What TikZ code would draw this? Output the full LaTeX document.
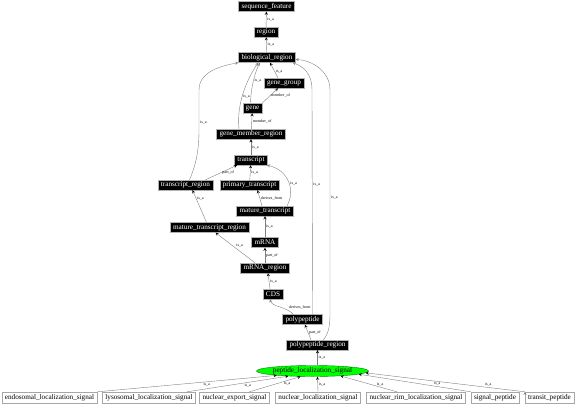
\documentclass[tikz,border=0pt]{standalone}
\usepackage{fontspec}
\setmainfont{Liberation Serif}
\usetikzlibrary{arrows,shapes.geometric}
\tikzset{
  term/.style={draw=gray!60, fill=black, text=white, font=\fontsize{7.2}{7.2}\selectfont, inner xsep=3pt, inner ysep=1pt, minimum height=10pt},
  leaf/.style={draw=gray!70, fill=white, text=black, font=\fontsize{7.2}{7.2}\selectfont, inner xsep=3pt, inner ysep=1pt, minimum height=11pt},
  signal/.style={ellipse, draw=green!50!black, fill=green, text=black, font=\fontsize{7.2}{7.2}\selectfont, minimum width=111pt, minimum height=11pt, inner sep=0pt},
  rel/.style={font=\fontsize{4}{4}\selectfont, inner sep=1pt, text=black}
}

\begin{document}
\begin{tikzpicture}[x=1pt,y=-1pt,>=stealth]
      \useasboundingbox (0,0) rectangle (576,405);
      \node[term](sf) at (266.5,6.5) {sequence\_feature};
      \node[term](reg) at (266,32) {region};
      \node[term](bio) at (267,57.5) {biological\_region};
      \node[term](gg) at (284,83) {gene\_group};
      \node[term](gene) at (252.5,108) {gene};
      \node[term](gmr) at (251,134) {gene\_member\_region};
      \node[term](tr) at (251,160) {transcript};
      \node[term](trr) at (185.5,185) {transcript\_region};
      \node[term](pt) at (249.5,185) {primary\_transcript};
      \node[term](mt) at (265,211) {mature\_transcript};
      \node[term](mtr) at (209.5,227.5) {mature\_transcript\_region};
      \node[term](mrna) at (265,242.5) {mRNA};
      \node[term](mrr) at (265,268) {mRNA\_region};
      \node[term](cds) at (273,294) {CDS};
      \node[term](pp) at (302.5,319.5) {polypeptide};
      \node[term](ppr) at (317.5,345) {polypeptide\_region};
      \node[signal](pls) at (312.5,371) {peptide\_localization\_signal};

      \node[leaf](endo) at (49.5,397.5) {endosomal\_localization\_signal};
      \node[leaf](lyso) at (149,397.5) {lysosomal\_localization\_signal};
      \node[leaf](nexp) at (234.5,397.5) {nuclear\_export\_signal};
      \node[leaf](nloc) at (318,397.5) {nuclear\_localization\_signal};
      \node[leaf](nrim) at (416,397.5) {nuclear\_rim\_localization\_signal};
      \node[leaf](sp) at (495,397.5) {signal\_peptide};
      \node[leaf](tp) at (549.5,397.5) {transit\_peptide};

      \path[->, draw=gray, every node/.style=rel]
      (reg) edge node[right]{is\_a} (sf)
      (bio) edge node[right]{is\_a} (reg)
      ([xshift=-6]gg.north) edge node[right, pos=0.4]{is\_a} ([xshift=3]bio.south)
      (gene.north east) edge node[right]{member\_of} ([xshift=-6]gg.south)
      (gmr) edge node[right]{member\_of} (gene)
      (tr) edge node[right]{is\_a} (gmr)
      ([xshift=20]trr.north) edge node[right]{part\_of} ([xshift=-14]tr.south)
      (pt) edge node[right]{is\_a} (tr)
      ([xshift=-3]mt.north) edge node[right]{derives\_from} ([xshift=8]pt.south)
      ([xshift=-3]mtr.north) edge node[right, pos=0.75]{is\_a} ([xshift=7]trr.south)
      (mrna) edge node[right]{is\_a} (mt)
      (mrr) edge node[right]{part\_of} (mrna)
      ([xshift=-10]mrr.north) edge node[above right]{is\_a} ([xshift=6]mtr.south)
      ([xshift=-3]cds.north) edge node[right]{is\_a} ([xshift=3]mrr.south)
      ([xshift=-6.5]ppr.north) edge node[right]{part\_of} ([xshift=2.5]pp.south)
      ([xshift=5]pls.north) edge node[right]{is\_a} (ppr)

      (endo.north east) edge node[pos=0.61, below]{is\_a} (pls.187)
      ([xshift=38]lyso.north) edge node[pos=0.6, below]{is\_a} (pls.192)
      ([xshift=15]nexp.north) edge node[pos=0.74, below]{is\_a} (pls.205)
      (nloc.north) edge node[right]{is\_a} ([xshift=5]pls.south)
      ([xshift=-19]nrim.north) edge node[pos=0.3, above]{is\_a} (pls.350)
      (sp.north west) edge node[pos=0.3, above]{is\_a} (pls.356)
      (tp.north west) edge node[pos=0.23, above]{is\_a} (pls.358)
      ;

      % long curved links up to biological_region
      \draw[->, gray] ([xshift=-2]gene.north) .. controls (251,85) and (256,70) .. ([xshift=-7]bio.south)
        node[rel, pos=0.45, right]{is\_a};
      \draw[->, gray] ([xshift=-12]gmr.north) .. controls (236,100) and (250,75) .. ([xshift=-9]bio.south)
        node[rel, pos=0.4, right]{is\_a};
      \draw[->, gray] ([xshift=4]trr.north) .. controls (196,165) and (199,150) .. (199,130) -- (199,90)
        node[rel, pos=0.2, right]{is\_a} .. controls (199,72) and (220,66) .. (bio.south west);
      \draw[->, gray] ([xshift=22]mt.north) .. controls (296,190) and (288,170) .. ([xshift=16]tr.south)
        node[rel, pos=0.45, right]{is\_a};
      \draw[->, gray] ([xshift=-9]pp.north) .. controls (285,306) and (272,307) .. ([xshift=-3]cds.south)
        node[rel, pos=0.2, above right]{derives\_from};
      \draw[->, gray] ([xshift=10]pp.north) -- (312,90)
        node[rel, pos=0.58, right]{is\_a} .. controls (312,72) and (302,66) .. ([xshift=-3]bio.south east);
      \draw[->, gray] ([xshift=6]ppr.north) .. controls (331,330) and (330,320) .. (330,300) -- (330,90)
        node[rel, pos=0.49, right]{is\_a} .. controls (330,70) and (310,60) .. ([yshift=-2]bio.east);

    \end{tikzpicture}
\end{document}
